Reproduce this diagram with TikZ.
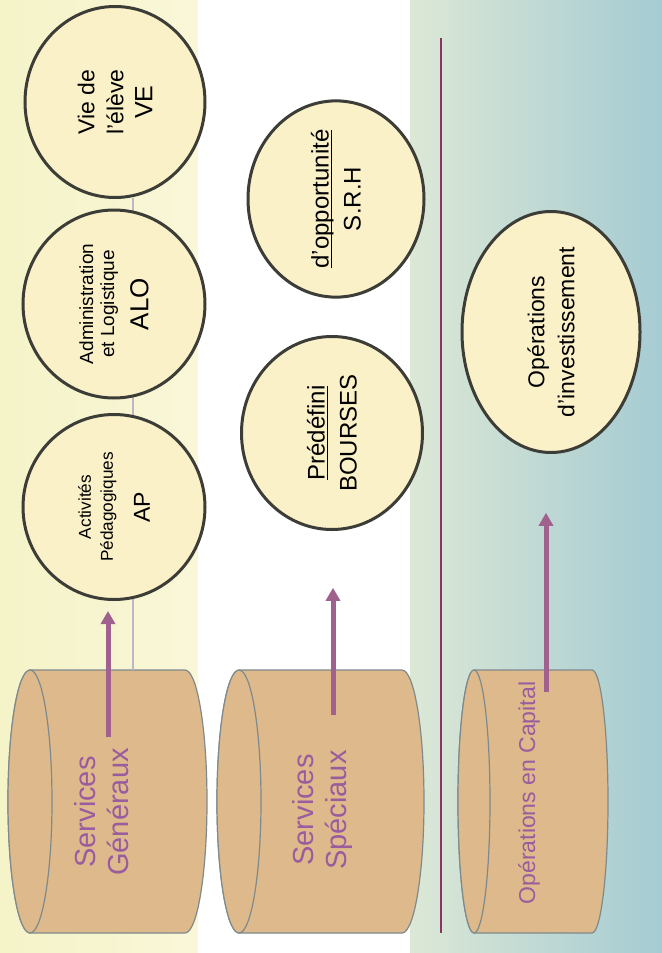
\documentclass[tikz,border=0pt]{standalone}
\usepackage{fontspec}
\setmainfont{Liberation Sans}
\usepackage{tikz}
\usetikzlibrary{shapes.geometric,arrows.meta}

\definecolor{bandyellowL}{HTML}{F5F3C8}
\definecolor{bandyellowR}{HTML}{F9F7D8}
\definecolor{bandtealL}{HTML}{DCE8D6}
\definecolor{bandtealR}{HTML}{A5CBD2}
\definecolor{bubblefill}{HTML}{FAF1C9}
\definecolor{bubbleline}{HTML}{3D3D37}
\definecolor{drumfill}{HTML}{DDB98B}
\definecolor{drumline}{HTML}{7E8A8C}
\definecolor{labelpurple}{HTML}{9A5C9E}
\definecolor{arrowpurple}{HTML}{A0618F}
\definecolor{linkgrey}{HTML}{BFB7C8}
\definecolor{dividerpurple}{HTML}{8B3363}

\newcommand{\ulword}[1]{\setbox0\hbox{#1}\rlap{\rule[-1.6pt]{\wd0}{0.6pt}}\box0}

\begin{document}
\begin{tikzpicture}[x=0.5pt, y=-0.5pt,
    bubble/.style={ellipse, rotate=90, draw=bubbleline, line width=1.5pt, fill=bubblefill, inner sep=0pt, align=center},
    drum/.style={draw=drumline, line width=0.6pt, fill=drumfill},
    drumtext/.style={rotate=90, text=labelpurple, align=center, inner sep=0pt},
    arrow/.style={draw=arrowpurple, line width=2.5pt, -{Triangle[length=6.5pt,width=7pt]}},
    link/.style={draw=linkgrey, line width=1.2pt},
    divider/.style={draw=dividerpurple, line width=0.85pt}]

    \useasboundingbox (0,0) rectangle (662,953);
    \shade[left color=bandyellowL, right color=bandyellowR] (0,0) rectangle (198,953);
    \fill[white] (198,0) rectangle (410,953);
    \shade[left color=bandtealL, right color=bandtealR] (410,0) rectangle (662,953);

    \draw[divider] (441,38) -- (441,933);

    \draw[drum] (30,670) -- (185,670) arc[start angle=90, end angle=-90, x radius=11pt, y radius=65.75pt] -- (30,933) arc[start angle=270, end angle=90, x radius=11pt, y radius=65.75pt] -- cycle;
    \draw[drum] (30,801.5) ellipse [x radius=11pt, y radius=65.75pt];
    \draw[drum] (239,670) -- (402,670) arc[start angle=90, end angle=-90, x radius=11pt, y radius=65.75pt] -- (239,933) arc[start angle=270, end angle=90, x radius=11pt, y radius=65.75pt] -- cycle;
    \draw[drum] (239,801.5) ellipse [x radius=11pt, y radius=65.75pt];
    \draw[drum] (474,670) -- (592,670) arc[start angle=90, end angle=-90, x radius=8pt, y radius=65.75pt] -- (474,933) arc[start angle=270, end angle=90, x radius=8pt, y radius=65.75pt] -- cycle;
    \draw[drum] (474,801.5) ellipse [x radius=8pt, y radius=65.75pt];

    \node (sg) [drumtext, font=\fontsize{14.5}{16.5}\selectfont] at (102,812) {Services\\Généraux};
    \node (ss) [drumtext, font=\fontsize{14.5}{16.5}\selectfont] at (322,810) {Services\\Spéciaux};
    \node (oc) [drumtext, font=\fontsize{11.5}{13}\selectfont] at (529,793) {Opérations en Capital};

    \coordinate (sgout) at (108,737);
    \coordinate (ssout) at (333,715);
    \coordinate (ocout) at (546,692);
    \coordinate (linkfoot) at (133,670);
    \coordinate (linktop) at (133,198);
    \draw[link] (linkfoot) -- (linktop);

    \node (ve) [bubble, minimum width=95.5pt, minimum height=90pt, font=\fontsize{11.5}{14.5}\selectfont] at (115,102) {Vie de\\l'élève\\{\fontsize{12.5}{15}\selectfont VE}};
    \node (alo) [bubble, minimum width=94pt, minimum height=91pt, font=\fontsize{9.5}{10.5}\selectfont] at (114,304) {Administration\\et Logistique\\[5pt]{\fontsize{13}{14}\selectfont ALO}};
    \node (ap) [bubble, minimum width=92.5pt, minimum height=91pt, font=\fontsize{8.6}{11}\selectfont] at (114,507) {Activités\\Pédagogiques\\[7.5pt]{\fontsize{11.5}{12}\selectfont AP}};
    \node (srh) [bubble, minimum width=94pt, minimum height=88pt, font=\fontsize{12}{16}\selectfont] at (336,199) {\ulword{d'opportunité}\\S.R.H};
    \node (brs) [bubble, minimum width=96.5pt, minimum height=90.5pt, font=\fontsize{12}{16}\selectfont] at (332,433) {\ulword{Prédéfini}\\BOURSES};
    \node (inv) [bubble, minimum width=120.5pt, minimum height=89pt, font=\fontsize{11.5}{15}\selectfont] at (551,332) {Opérations\\d'investissement};

    \draw[arrow, shorten >=5pt] (sgout) -- (sgout |- ap.west);
    \draw[arrow, shorten >=28.4pt] (ssout) -- (ssout |- brs.west);
    \draw[arrow, shorten >=29.4pt] (ocout) -- (ocout |- inv.west);

\end{tikzpicture}
\end{document}
